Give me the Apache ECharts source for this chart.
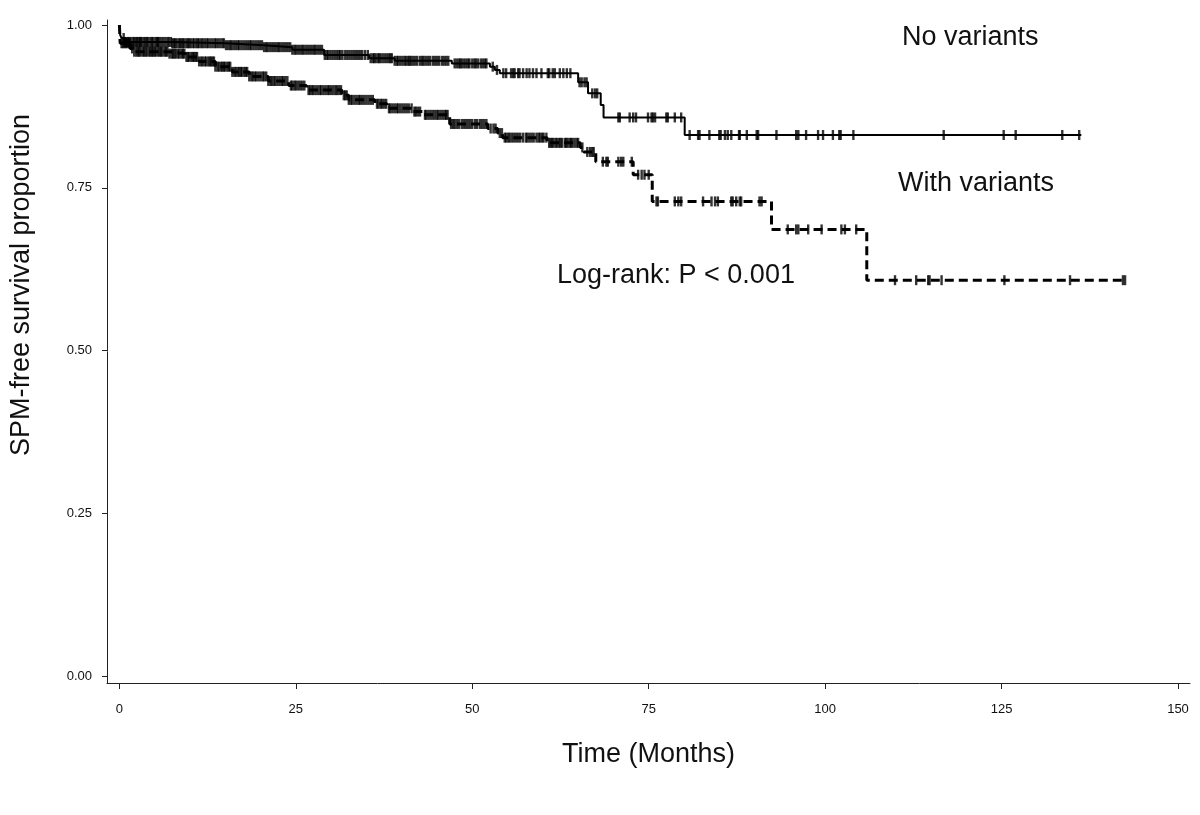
<!DOCTYPE html>
<html>
<head>
<meta charset="utf-8">
<script src="https://cdn.jsdelivr.net/npm/echarts@6/dist/echarts.min.js"></script>
<style>html,body{margin:0;padding:0;background:#fff}#c{width:1200px;height:815px}</style>
</head>
<body>
<div id="c"></div>
<script>
// ---- Data ----
const xTicks = [0, 25, 50, 75, 100, 125, 150];
const yTicks = [0, 0.25, 0.5, 0.75, 1.0];

// No variants: step times and survival after each step
const noVarTime = [0, 0.1, 0.3, 0.8, 7.5, 15, 20.5, 24.5, 29, 35.4, 39, 47.1, 52.5, 53.2, 53.9, 65.0, 66.4, 68.2, 68.6, 80.1];
const noVarSurv = [1.0, 0.985, 0.980, 0.974, 0.972, 0.969, 0.966, 0.962, 0.954, 0.949, 0.945, 0.941, 0.936, 0.931, 0.926, 0.912, 0.895, 0.877, 0.858, 0.831];
const noVarEnd = 136.3;
const noVarCensor = [0.6,1.0,1.4,1.9,2.3,2.7,3.0,3.5,3.9,4.4,4.8,5.3,5.6,6.2,6.8,7.3,7.7,8.1,8.6,9.0,9.5,9.9,10.4,10.9,11.3,11.8,12.4,12.9,13.5,14.0,14.6,15.1,15.7,16.2,16.8,17.3,17.9,18.5,19.0,19.6,20.2,20.8,21.3,21.9,22.5,23.0,23.6,24.2,24.8,25.3,25.9,26.4,27.0,27.6,28.1,28.7,29.4,29.9,30.5,31.1,31.6,32.3,32.9,33.5,34.1,34.8,35.6,36.1,36.6,37.0,37.6,38.2,38.6,39.3,39.8,40.4,40.9,41.3,41.9,42.6,43.1,43.7,44.4,45.0,45.7,46.3,47.5,48.1,48.5,49.1,49.6,50.3,50.8,51.5,52.0,52.9,53.5,54.4,54.8,55.5,55.8,56.0,56.5,56.7,57.2,57.7,58.1,58.6,59.1,59.8,60.7,60.9,61.4,61.7,62.4,62.9,63.4,63.9,65.2,65.5,65.9,66.2,67.0,67.4,67.7,70.7,70.9,72.3,72.8,73.2,74.9,75.4,75.6,75.9,77.5,77.7,78.7,79.6,80.8,82.0,82.2,83.6,85.0,85.2,85.8,86.2,86.7,87.8,87.9,88.9,90.3,90.5,93.1,95.9,96.2,97.3,99.0,99.7,101.1,102.0,102.2,104.0,116.8,125.3,127.0,133.6,136.0];
const noVarCensorDense = [0.8,1.2,1.6,2.1,2.5,2.9,3.2,3.7,4.1,4.6,5.1,5.45,5.9,6.5,7.0,7.5,7.9,8.4,8.8,9.2,9.7,10.1,10.6,11.1,11.6,12.1,12.6,13.2,13.7,14.3,14.8,15.4,15.9,16.5,17.0,17.6,18.2,18.7,19.3,19.9,20.5,21.0,21.6,22.2,22.7,23.3,23.9,24.5,25.0,25.6,26.1,26.7,27.3,27.8,28.4,29.1,29.6,30.2,30.8,31.3,32.0,32.6,33.2,33.8,34.4,35.2,35.9,36.3,36.8,37.3,37.9,38.4,39.0,39.5,40.1,40.6,41.1,41.6,42.2,42.9,43.4,44.0,44.7,45.3,46.0,46.6,47.8,48.3,48.8,49.4,50.0,50.5,51.2,51.8];

// With variants
const withVarTime = [0, 0.1, 1.5, 2.0, 7.0, 9.4, 11.3, 13.6, 16.0, 18.4, 21.1, 24.0, 26.5, 31.5, 32.5, 36.2, 37.9, 41.5, 43.0, 46.8, 52.2, 53.6, 54.3, 60.6, 65.3, 65.8, 67.5, 72.8, 75.5, 92.4, 105.9];
const withVarSurv = [1.0, 0.972, 0.964, 0.959, 0.956, 0.951, 0.944, 0.936, 0.928, 0.921, 0.914, 0.907, 0.900, 0.892, 0.885, 0.879, 0.872, 0.867, 0.862, 0.848, 0.841, 0.834, 0.827, 0.819, 0.812, 0.805, 0.790, 0.770, 0.729, 0.686, 0.608];
const withVarEnd = 142.5;
const withVarCensor = [0.3,0.7,1.1,1.8,2.4,2.8,3.3,3.7,4.2,4.6,5.0,5.5,5.9,6.4,6.8,7.4,7.8,8.3,8.8,9.2,9.7,10.2,10.6,11.0,11.6,12.1,12.6,13.0,13.4,13.9,14.4,14.8,15.3,15.7,16.3,16.8,17.2,17.7,18.1,18.7,19.2,19.7,20.3,20.8,21.4,21.9,22.4,23.0,23.5,24.3,24.8,25.3,25.9,26.8,27.3,27.8,28.4,28.9,29.5,30.0,30.6,31.1,31.8,32.2,32.8,33.3,33.9,34.4,35.0,35.6,36.5,37.0,37.5,38.2,38.7,39.3,39.8,40.4,41.0,41.8,42.3,43.3,43.8,44.4,45.0,45.5,46.1,46.5,47.3,47.8,48.5,49.1,49.7,50.4,51.1,51.7,52.6,53.0,53.9,54.6,55.1,55.6,56.2,56.8,57.6,58.1,58.4,59.1,59.6,60.1,60.9,61.3,61.8,62.3,62.7,63.1,63.5,64.0,64.5,65.0,65.6,66.3,66.7,67.0,67.2,68.5,69.0,69.2,70.7,71.1,71.4,72.6,73.5,74.0,74.4,75.0,76.1,76.3,78.7,79.2,79.6,82.7,83.9,84.4,84.8,86.7,86.9,87.4,87.9,88.1,90.7,91.0,94.7,95.9,96.2,97.6,99.5,102.3,102.8,104.4,109.9,112.9,114.6,114.8,116.5,125.4,134.7,142.2,142.5];
const withVarCensorDense = [0.5,0.9,1.4,2.1,2.6,3.0,3.5,3.9,4.4,4.8,5.2,5.7,6.1,6.6,7.1,7.6,8.0,8.5,9.0,9.5,9.9,10.4,10.8,11.3,11.8,12.3,12.8,13.2,13.6,14.1,14.6,15.0,15.5,16.0,16.5,17.0,17.4,17.9,18.4,18.9,19.4,20.0,20.5,21.1,21.6,22.1,22.7,23.2,23.8,24.5,25.0,25.6,26.2,27.0,27.5,28.1,28.6,29.2,29.7,30.3,30.8,31.4,32.0,32.5,33.0,33.6,34.1,34.7,35.3,35.9,36.7,37.2,37.8,38.4,39.0,39.5,40.1,40.7,41.4,42.0,42.6,43.5,44.1,44.7,45.2,45.8,46.3,47.0,47.5,48.1,48.8,49.4,50.0,50.7,51.4,52.0,53.3,54.2,54.8,55.3,55.9,56.5,57.2,57.8,58.7,59.4,59.9,60.5,61.1,61.5,62.0,62.5,63.3,63.8,64.2,64.8];

// ---- helpers ----
function stepData(times, survs, endT) {
  const d = times.map((t, i) => [t, survs[i]]);
  d.push([endT, survs[survs.length - 1]]);
  return d;
}
function survAt(times, survs, t) {
  let s = survs[0];
  for (let i = 0; i < times.length; i++) { if (times[i] <= t) s = survs[i]; else break; }
  return s;
}
function censorData(cens, times, survs) {
  return cens.map(t => [t, survAt(times, survs, t)]);
}

const FONT = '"Liberation Sans", Arial, sans-serif';
const chart = echarts.init(document.getElementById('c'), null, {renderer: 'canvas'});
chart.setOption({
  animation: false,
  backgroundColor: '#fff',
  grid: {left: 107, right: 10, top: 20, bottom: 132, containLabel: false},
  xAxis: {
    type: 'value', min: -1.76, max: 151.7,
    splitLine: {show: false},
    axisLine: {show: true, onZero: false, lineStyle: {color: '#222', width: 1}},
    axisTick: {show: true, length: 6, customValues: xTicks, lineStyle: {color: '#222'}},
    axisLabel: {customValues: xTicks, margin: 20, fontSize: 13, color: '#111', fontFamily: FONT},
    name: 'Time (Months)', nameLocation: 'middle', nameGap: 58,
    nameTextStyle: {fontSize: 27, color: '#111', fontFamily: FONT}
  },
  yAxis: {
    type: 'value', min: -0.0108, max: 1.0077,
    splitLine: {show: false},
    axisLine: {show: true, onZero: false, lineStyle: {color: '#222', width: 1}},
    axisTick: {show: true, length: 5, customValues: yTicks, lineStyle: {color: '#222'}},
    axisLabel: {customValues: yTicks, margin: 15, fontSize: 13, color: '#111', fontFamily: FONT,
      formatter: v => v.toFixed(2)}
  },
  graphic: [
    {type: 'text', x: 22, y: 285, rotation: Math.PI / 2,
      style: {text: 'SPM-free survival proportion', fontSize: 27, fontFamily: FONT, fill: '#111', textAlign: 'center', textVerticalAlign: 'middle'}},
    {type: 'text', x: 902, y: 38,
      style: {text: 'No variants', fontSize: 27, fontFamily: FONT, fill: '#111', textAlign: 'left', textVerticalAlign: 'middle'}},
    {type: 'text', x: 898, y: 184,
      style: {text: 'With variants', fontSize: 27, fontFamily: FONT, fill: '#111', textAlign: 'left', textVerticalAlign: 'middle'}},
    {type: 'text', x: 557, y: 276,
      style: {text: 'Log-rank: P < 0.001', fontSize: 27, fontFamily: FONT, fill: '#111', textAlign: 'left', textVerticalAlign: 'middle'}}
  ],
  series: [
    {type: 'line', name: 'No variants', step: 'end', symbol: 'none', silent: true,
      data: stepData(noVarTime, noVarSurv, noVarEnd),
      lineStyle: {color: '#000', width: 2}},
    {type: 'line', name: 'With variants', step: 'end', symbol: 'none', silent: true,
      data: stepData(withVarTime, withVarSurv, withVarEnd),
      lineStyle: {color: '#000', width: 3, type: [9, 5]}},
    {type: 'scatter', silent: true, symbol: 'rect', symbolSize: [2.4, 10],
      data: censorData(noVarCensor.concat(noVarCensorDense), noVarTime, noVarSurv), itemStyle: {color: '#000'}},
    {type: 'scatter', silent: true, symbol: 'rect', symbolSize: [2.4, 10],
      data: censorData(withVarCensor.concat(withVarCensorDense), withVarTime, withVarSurv), itemStyle: {color: '#000'}}
  ]
});
</script>
</body>
</html>
